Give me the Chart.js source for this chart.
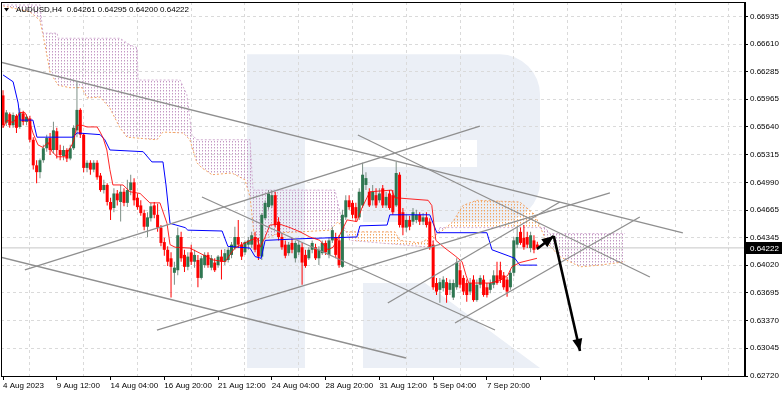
<!DOCTYPE html>
<html>
<head>
<meta charset="utf-8">
<script src="https://cdn.jsdelivr.net/npm/chart.js@4.4.0/dist/chart.umd.min.js"></script>
<style>
  html, body { margin: 0; padding: 0; background: #fff; overflow: hidden; }
  canvas { display: block; }
</style>
</head>
<body>
<canvas id="chart" width="782" height="396" style="width:782px;height:396px"></canvas>
<script>
(function() {

    /**
     * Chart data
     */
    let symbol = 'AUDUSD,H4';

    // time labels, one every 16 bars
    let xLabels = ['4 Aug 2023', '9 Aug 12:00', '14 Aug 04:00', '16 Aug 20:00', '21 Aug 12:00',
                   '24 Aug 04:00', '28 Aug 20:00', '31 Aug 12:00', '5 Sep 04:00', '7 Sep 20:00'];
    let labelEvery = 16;

    let yTicks = [0.62720, 0.63045, 0.63370, 0.63695, 0.64020, 0.64345, 0.64665,
                  0.64990, 0.65315, 0.65640, 0.65965, 0.66285, 0.66610, 0.66935];

    // [open, high, low, close] per H4 bar
    let ohlc = [
      [.6601,.6607,.6563,.6566],[.6569,.6584,.6565,.6581],[.6579,.6581,.6563,.6566],[.6566,.6581,.6563,.6578],
      [.6577,.6579,.6557,.6563],[.6564,.6586,.6562,.6581],[.6580,.6583,.6566,.6570],[.6570,.6579,.6566,.6576],
      [.6574,.6577,.6546,.6549],[.6549,.6552,.6514,.6519],[.6519,.6525,.6498,.6511],[.6511,.6527,.6504,.6525],
      [.6525,.6543,.6522,.6539],[.6539,.6555,.6535,.6551],[.6551,.6557,.6531,.6537],[.6537,.6570,.6533,.6560],
      [.6559,.6563,.6527,.6537],[.6537,.6543,.6525,.6531],[.6530,.6542,.6525,.6537],[.6537,.6539,.6523,.6527],
      [.6527,.6543,.6525,.6539],[.6539,.6566,.6537,.6563],[.6560,.6617,.6552,.6584],[.6584,.6586,.6551,.6555],
      [.6555,.6557,.6511,.6516],[.6516,.6525,.6511,.6522],[.6522,.6525,.6508,.6514],[.6514,.6525,.6511,.6522],
      [.6522,.6525,.6502,.6505],[.6507,.6510,.6488,.6490],[.6490,.6502,.6486,.6496],[.6496,.6498,.6472,.6476],
      [.6476,.6481,.6455,.6467],[.6469,.6492,.6464,.6486],[.6486,.6490,.6472,.6478],[.6476,.6496,.6453,.6488],
      [.6488,.6492,.6471,.6475],[.6475,.6502,.6470,.6490],[.6490,.6508,.6484,.6499],[.6499,.6504,.6472,.6478],
      [.6481,.6486,.6467,.6470],[.6472,.6478,.6460,.6463],[.6463,.6467,.6443,.6447],[.6447,.6464,.6435,.6458],
      [.6457,.6475,.6453,.6471],[.6472,.6476,.6457,.6461],[.6461,.6474,.6441,.6446],[.6446,.6449,.6424,.6428],
      [.6429,.6434,.6413,.6420],[.6420,.6424,.6401,.6406],[.6410,.6417,.6364,.6400],[.6393,.6406,.6379,.6399],
      [.6396,.6446,.6390,.6437],[.6435,.6441,.6406,.6410],[.6414,.6420,.6394,.6400],[.6400,.6417,.6396,.6412],
      [.6417,.6426,.6402,.6406],[.6406,.6420,.6399,.6414],[.6408,.6414,.6376,.6387],[.6387,.6413,.6385,.6410],
      [.6402,.6417,.6399,.6414],[.6414,.6417,.6399,.6402],[.6399,.6414,.6396,.6410],[.6405,.6410,.6394,.6396],
      [.6402,.6414,.6399,.6412],[.6412,.6420,.6385,.6406],[.6406,.6421,.6402,.6416],[.6408,.6423,.6405,.6420],
      [.6414,.6429,.6410,.6426],[.6422,.6447,.6420,.6435],[.6435,.6455,.6422,.6426],[.6426,.6429,.6408,.6412],
      [.6417,.6431,.6414,.6429],[.6426,.6435,.6420,.6431],[.6426,.6441,.6422,.6437],[.6435,.6441,.6417,.6420],
      [.6426,.6434,.6408,.6412],[.6412,.6463,.6408,.6461],[.6457,.6478,.6455,.6475],[.6470,.6490,.6467,.6486],
      [.6472,.6490,.6469,.6484],[.6484,.6488,.6446,.6449],[.6453,.6458,.6431,.6435],[.6435,.6440,.6420,.6423],
      [.6426,.6431,.6410,.6413],[.6416,.6429,.6413,.6426],[.6428,.6434,.6416,.6420],[.6410,.6431,.6405,.6428],
      [.6417,.6431,.6414,.6426],[.6423,.6428,.6379,.6405],[.6414,.6420,.6399,.6401],[.6410,.6423,.6408,.6420],
      [.6420,.6431,.6416,.6428],[.6423,.6427,.6408,.6410],[.6410,.6424,.6402,.6420],[.6416,.6431,.6414,.6428],
      [.6428,.6431,.6414,.6417],[.6414,.6435,.6410,.6431],[.6431,.6447,.6428,.6443],[.6435,.6440,.6410,.6414],
      [.6431,.6437,.6399,.6402],[.6400,.6467,.6399,.6461],[.6458,.6484,.6455,.6478],[.6478,.6484,.6467,.6470],
      [.6475,.6478,.6457,.6461],[.6470,.6475,.6453,.6457],[.6458,.6492,.6455,.6488],[.6472,.6522,.6469,.6508],
      [.6496,.6511,.6490,.6504],[.6488,.6492,.6470,.6472],[.6478,.6496,.6472,.6488],[.6484,.6492,.6469,.6472],
      [.6478,.6492,.6475,.6486],[.6492,.6496,.6469,.6472],[.6472,.6488,.6469,.6482],[.6486,.6490,.6467,.6469],
      [.6484,.6490,.6461,.6464],[.6472,.6523,.6470,.6510],[.6508,.6511,.6446,.6449],[.6464,.6469,.6437,.6446],
      [.6446,.6461,.6441,.6455],[.6455,.6460,.6443,.6447],[.6453,.6469,.6449,.6464],[.6455,.6467,.6451,.6461],
      [.6461,.6464,.6449,.6453],[.6453,.6463,.6449,.6458],[.6458,.6464,.6446,.6449],[.6453,.6457,.6420,.6423],
      [.6426,.6431,.6373,.6376],[.6381,.6387,.6367,.6371],[.6373,.6387,.6358,.6382],[.6375,.6389,.6371,.6385],
      [.6382,.6387,.6358,.6367],[.6373,.6385,.6367,.6381],[.6364,.6385,.6361,.6381],[.6376,.6410,.6373,.6405],
      [.6396,.6405,.6375,.6379],[.6387,.6390,.6367,.6371],[.6381,.6385,.6359,.6367],[.6371,.6387,.6367,.6381],
      [.6385,.6390,.6359,.6361],[.6361,.6385,.6359,.6379],[.6379,.6390,.6375,.6387],[.6385,.6390,.6365,.6367],
      [.6376,.6381,.6364,.6367],[.6373,.6385,.6369,.6381],[.6379,.6396,.6375,.6390],[.6390,.6406,.6379,.6381],
      [.6396,.6406,.6381,.6385],[.6390,.6394,.6373,.6376],[.6385,.6388,.6365,.6371],[.6376,.6396,.6373,.6393],
      [.6393,.6435,.6389,.6431],[.6426,.6447,.6422,.6435],[.6441,.6446,.6426,.6428],[.6434,.6449,.6420,.6423],
      [.6435,.6441,.6422,.6426],[.6422,.6441,.6417,.6437],[.6431,.6437,.6416,.6420],[.64261,.64295,.64200,.64222]
    ];

    // Ichimoku lines as [bar index, price]
    let tenkan = [
      [0,.6563],[1.2,.6572],[3,.6569],[5.1,.6581],[6.5,.6581],[8,.6569],[8.9,.6557],[10.4,.6543],[11.9,.6540],
      [13.4,.6546],[14.6,.6535],[16.1,.6529],[18.4,.6529],[19.3,.6535],[20.5,.6543],[21.1,.6549],[22,.6566],
      [23.5,.6566],[25,.6564],[28,.6564],[28.9,.6558],[29.8,.6551],[30.9,.6537],[31.8,.6514],[32.7,.6496],
      [35.7,.6496],[37.8,.6488],[40.8,.6486],[43.7,.6475],[46.7,.6475],[48.8,.6451],[49.7,.6426],[51.2,.6423],
      [55.6,.6422],[58.6,.6416],[62.5,.6408],[66.1,.6406],[67.5,.6414],[69,.6422],[73.5,.6431],[75.6,.6434],
      [76.5,.6423],[78,.6435],[79.4,.6449],[82.4,.6450],[85.4,.6446],[88.4,.6441],[91.3,.6435],[94.3,.6431],
      [96.7,.6420],[98.2,.6423],[99.4,.6431],[100.9,.6443],[102.4,.6455],[105.3,.6453],[106.8,.6469],
      [108.3,.6481],[109.2,.6488],[115.7,.6490],[116.6,.6481],[126.5,.6478],[127.6,.6472],[128.8,.6431],
      [131.5,.6422],[134.5,.6413],[136.6,.6406],[137.8,.6390],[138.6,.6381],[144.9,.6381],[147.9,.6384],
      [150.2,.6390],[151.4,.6400],[153.8,.6405],[158.9,.6410]
    ];

    let kijun = [
      [0,.6625],[3,.6617],[4.5,.6592],[5.1,.6572],[8.9,.6572],[10.1,.6552],[20.8,.6552],[22,.6557],[28.9,.6555],
      [30.3,.6549],[31.8,.6537],[41.7,.6535],[44.3,.6523],[47.6,.6523],[48.5,.6496],[49.7,.6451],[54.2,.6446],
      [55,.6443],[65.2,.6442],[66.9,.6424],[73.5,.6422],[75,.6412],[76.8,.6410],[78,.6431],[89,.6433],
      [105.3,.6435],[106.2,.6448],[114.3,.6449],[115.1,.6461],[127,.6461],[129.1,.6440],[144,.6440],
      [145.5,.6420],[150.3,.6413],[152.3,.6410],[153.8,.6402],[158.9,.6402]
    ];

    let spanA = [
      [0,.6706],[8,.6699],[11,.6689],[12.5,.6660],[14,.6628],[16.4,.6613],[19.9,.6610],[23.5,.6610],[25,.6598],
      [28.9,.6599],[31.8,.6586],[34.8,.6563],[36.9,.6552],[45.8,.6549],[47.6,.6558],[53.6,.6557],[55.6,.6549],
      [57.7,.6522],[59.2,.6516],[62.2,.6508],[68.1,.6510],[72,.6502],[73.5,.6482],[75,.6428],[82.4,.6440],
      [88.4,.6441],[97.3,.6443],[99.7,.6453],[101.8,.6441],[116.6,.6441],[118.1,.6431],[124.1,.6428],
      [130,.6440],[133.9,.6453],[136.9,.6472],[141,.6478],[153.8,.6476],[158.3,.6461],[161.9,.6428],
      [165.7,.6412],[171.7,.6400],[177.6,.6402],[185.1,.6406]
    ];

    let spanB = [
      [0,.6707],[11,.6707],[11.9,.6674],[16.1,.6674],[16.4,.6668],[34.8,.6668],[37.8,.6660],[39.9,.6657],
      [40.2,.6619],[52.7,.6619],[54.7,.6602],[56.2,.6555],[57.7,.6549],[73.5,.6549],[74.4,.6490],[98.8,.6490],
      [100.9,.6453],[103.2,.6431],[127,.6423],[130,.6446],[161.3,.6446],[162.7,.6439],[185.1,.6439]
    ];

    // trend lines [bar1, price1, bar2, price2]
    let trendLines = [
      [-0.9, 0.66402, 202.3, 0.64397],
      [105.6, 0.65546, 192.5, 0.63881],
      [59.2, 0.64819, 146.4, 0.63259],
      [-0.9, 0.64115, 119.9, 0.62931],
      [6.5, 0.63963, 141.9, 0.65651],
      [45.8, 0.63259, 180.6, 0.64866],
      [114.5, 0.63576, 165.7, 0.64760],
      [134.5, 0.63341, 189.5, 0.64584]
    ];

    let arrows = [
      [158.9, 0.64210, 163.9, 0.64362],
      [163.9, 0.64362, 171.7, 0.63014]
    ];

    let xMin = -0.6, xMax = 220.8;
    let yMin = 0.62720, yMax = 0.67105;

    let bid = ohlc[ohlc.length - 1][3];

    let colors = {
      bull: '#2f7651',
      bullWick: '#7d8f86',
      bear: '#ff0000',
      tenkan: 'rgba(255,0,0,0.85)',
      kijun: '#0000ff',
      sandy: '#f4a460',
      thistle: '#d2aed2',
      kumoDown: '#c497c4',
      grid: '#dadada',
      trend: '#8f8f8f',
      logo: '#ebeff6'
    };

    Chart.defaults.font.family = '"Liberation Sans", Arial, sans-serif';
    Chart.defaults.font.size = 8;
    Chart.defaults.color = '#000';

    let pts = list => list.map(p => ({x: p[0], y: p[1]}));

    /**
     * Dotted column pattern used for the cloud
     */
    let hatch = color => {
        let c = document.createElement('canvas');
        c.width = 3;
        c.height = 3;
        let g = c.getContext('2d');
        g.fillStyle = color;
        g.fillRect(1, 0, 1, 1);
        g.globalAlpha = 0.45;
        g.fillRect(1, 1, 1, 1);
        return g.createPattern(c, 'repeat');
    };

    let lineSet = (data, color, width, extra) => Object.assign({
        type: 'line',
        data: data,
        borderColor: color,
        borderWidth: width,
        pointRadius: 0,
        fill: false,
        tension: 0
    }, extra || {});

    let datasets = [
      lineSet(pts(spanA), colors.sandy, 1, {borderDash: [2, 2], order: 10}),
      lineSet(pts(spanB), colors.thistle, 1, {
        borderDash: [2, 2],
        order: 9,
        fill: {target: 0, above: hatch(colors.kumoDown), below: hatch(colors.sandy)}
      }),
      lineSet([{x: xMin, y: bid}, {x: xMax, y: bid}], '#c6c6c6', 1, {order: 8}),
      {
        type: 'bar',
        data: ohlc.map((c, i) => ({x: i, y: [c[2], c[1]]})),
        backgroundColor: ohlc.map(c => c[3] >= c[0] ? colors.bullWick : colors.bear),
        grouped: false,
        barThickness: 1,
        inflateAmount: 0,
        minBarLength: 1,
        order: 7
      },
      {
        type: 'bar',
        data: ohlc.map((c, i) => ({x: i, y: [c[0], c[3]]})),
        backgroundColor: ohlc.map(c => c[3] >= c[0] ? colors.bull : colors.bear),
        grouped: false,
        barThickness: 3,
        inflateAmount: 0,
        minBarLength: 1,
        order: 6
      },
      lineSet(pts(kijun), colors.kijun, 1, {order: 5}),
      lineSet(pts(tenkan), colors.tenkan, 1, {order: 4})
    ];

    trendLines.forEach(t => {
        datasets.push(lineSet([{x: t[0], y: t[1]}, {x: t[2], y: t[3]}], colors.trend, 1.3, {order: 2}));
    });

    arrows.forEach(a => {
        datasets.push(lineSet([{x: a[0], y: a[1]}, {x: a[2], y: a[3]}], '#000', 2.6, {order: 1, arrow: true}));
    });

    /**
     * Watermark, frame, header text, arrow heads and price tag
     */
    let decor = {
        id: 'decor',
        beforeDraw(chart) {
            let {left, top, width, height} = chart.chartArea;
            let ctx = chart.ctx;
            let px = f => left + f * width;
            let py = f => top + f * height;
            let r = 0.054 * width;
            ctx.save();
            ctx.fillStyle = colors.logo;
            ctx.beginPath();
            ctx.moveTo(px(0.3306), py(0.14));
            ctx.lineTo(px(0.6707), py(0.14));
            ctx.arcTo(px(0.7245), py(0.14), px(0.7245), py(0.30), r);
            ctx.lineTo(px(0.7245), py(0.48));
            ctx.arcTo(px(0.7245), py(0.5882), px(0.6707), py(0.5882), r);
            ctx.lineTo(px(0.4866), py(0.5882));
            ctx.lineTo(px(0.4866), py(0.4412));
            ctx.lineTo(px(0.6398), py(0.4412));
            ctx.lineTo(px(0.6398), py(0.369));
            ctx.lineTo(px(0.4086), py(0.369));
            ctx.lineTo(px(0.4086), py(0.9786));
            ctx.lineTo(px(0.3306), py(0.9786));
            ctx.closePath();
            ctx.fill();
            ctx.beginPath();
            ctx.moveTo(px(0.4866), py(0.7513));
            ctx.lineTo(px(0.5699), py(0.7513));
            ctx.lineTo(px(0.7245), py(0.9786));
            ctx.lineTo(px(0.4866), py(0.9786));
            ctx.closePath();
            ctx.fill();
            ctx.restore();
        },
        afterDatasetsDraw(chart) {
            let ctx = chart.ctx;
            chart.data.datasets.forEach((ds, i) => {
                if (!ds.arrow) return;
                let pts = chart.getDatasetMeta(i).data;
                let a = pts[0], b = pts[1];
                let ang = Math.atan2(b.y - a.y, b.x - a.x);
                let len = 12, half = 5;
                ctx.save();
                ctx.fillStyle = '#000';
                ctx.beginPath();
                ctx.moveTo(b.x, b.y);
                ctx.lineTo(b.x - len * Math.cos(ang) + half * Math.sin(ang), b.y - len * Math.sin(ang) - half * Math.cos(ang));
                ctx.lineTo(b.x - len * Math.cos(ang) - half * Math.sin(ang), b.y - len * Math.sin(ang) + half * Math.cos(ang));
                ctx.closePath();
                ctx.fill();
                ctx.restore();
            });
        },
        afterDraw(chart) {
            let {left, top, right, bottom} = chart.chartArea;
            let ctx = chart.ctx;
            ctx.save();

            // frame
            ctx.strokeStyle = '#000';
            ctx.lineWidth = 1;
            ctx.strokeRect(left + 0.5, top + 0.5, right - left - 1, bottom - top);

            // header
            ctx.fillStyle = '#000';
            ctx.beginPath();
            ctx.moveTo(left + 3, top + 6);
            ctx.lineTo(left + 8, top + 6);
            ctx.lineTo(left + 5.5, top + 9.5);
            ctx.closePath();
            ctx.fill();
            ctx.font = '8px "Liberation Sans", Arial, sans-serif';
            ctx.textBaseline = 'middle';
            let last = ohlc[ohlc.length - 1];
            ctx.fillText(symbol + '  ' + last.map(v => v.toFixed(5)).join(' '), left + 15, top + 7.5);

            // price tag
            let y = chart.scales.y.getPixelForValue(bid);
            ctx.fillRect(right, Math.round(y) - 6, chart.width - right, 12);
            ctx.fillStyle = '#fff';
            ctx.fillText(bid.toFixed(5), right + 5, Math.round(y) + 0.5);
            ctx.restore();
        }
    };

    new Chart(document.getElementById('chart'), {
        type: 'bar',
        data: {datasets: datasets},
        options: {
            responsive: false,
            animation: false,
            events: [],
            layout: {padding: {top: 2, left: 1, right: 0, bottom: 0}},
            plugins: {
                legend: {display: false},
                tooltip: {enabled: false}
            },
            scales: {
                x: {
                    type: 'linear',
                    min: xMin,
                    max: xMax,
                    offset: false,
                    afterBuildTicks: scale => {
                        let ticks = [];
                        for (let v = 0; v <= xMax; v += labelEvery / 2) ticks.push({value: v});
                        scale.ticks = ticks;
                    },
                    afterFit: scale => {
                        scale.height = 20;
                        scale.paddingLeft = 0;
                        scale.paddingRight = 0;
                    },
                    ticks: {
                        autoSkip: false,
                        maxRotation: 0,
                        minRotation: 0,
                        align: 'start',
                        padding: 1,
                        callback: value => value % labelEvery === 0 ? (xLabels[value / labelEvery] || '') : ''
                    },
                    grid: {
                        offset: false,
                        color: ctx => ctx.tick && ctx.tick.value % labelEvery !== 0 ? colors.grid : 'transparent',
                        tickColor: ctx => ctx.tick && ctx.tick.value % labelEvery === 0 ? '#000' : 'transparent',
                        tickLength: 4
                    },
                    border: {display: true, color: '#000', dash: [3, 3]}
                },
                y: {
                    type: 'linear',
                    position: 'right',
                    min: yMin,
                    max: yMax,
                    afterBuildTicks: scale => {
                        scale.ticks = yTicks.map(v => ({value: v}));
                    },
                    afterFit: scale => {
                        scale.width = 37;
                        scale.paddingTop = 0;
                        scale.paddingBottom = 0;
                    },
                    ticks: {
                        padding: 2,
                        callback: value => value.toFixed(5)
                    },
                    grid: {
                        color: colors.grid,
                        tickColor: '#000',
                        tickLength: 3
                    },
                    border: {display: true, color: '#000', dash: [3, 3]}
                }
            }
        },
        plugins: [decor]
    });

})();
</script>
</body>
</html>
